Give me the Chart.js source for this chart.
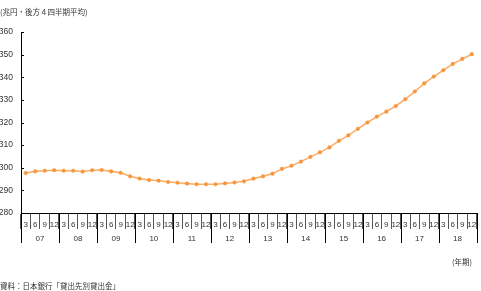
<html>
<head>
  <meta charset="utf-8">
  <title>貸出金</title>
  <script src="https://cdn.jsdelivr.net/npm/chart.js@4.4.1/dist/chart.umd.min.js"></script>
  <style>
    body { margin: 0; background: #fff; }
    #wrap { width: 481px; height: 291px; }
  </style>
</head>
<body>
  <div id="wrap"><canvas id="chart" width="481" height="291"></canvas></div>

  <script>
    // quarterly labels (month of quarter end), 2007 - 2018
    var years = ['07', '08', '09', '10', '11', '12', '13', '14', '15', '16', '17', '18'];
    var quarters = ['3', '6', '9', '12'];
    var yTicks = [280, 290, 300, 310, 320, 330, 340, 350, 360];

    // 兆円, 後方4四半期平均
    var loans = [
      297.7, 298.4, 298.7, 298.9,
      298.7, 298.7, 298.3, 298.9,
      299.0, 298.4, 297.8, 296.2,
      295.2, 294.6, 294.3, 293.7,
      293.4, 293.0, 292.7, 292.7,
      292.7, 293.1, 293.5, 294.0,
      295.2, 296.2, 297.4, 299.5,
      300.9, 302.7, 304.8, 306.8,
      309.0, 311.9, 314.3, 317.2,
      320.0, 322.6, 324.8, 327.3,
      330.3, 333.7, 337.3, 340.3,
      343.1, 345.9, 348.1, 350.2
    ];

    var labels = [];
    for (var i = 0; i < years.length; i++) {
      for (var j = 0; j < quarters.length; j++) {
        labels.push(quarters[j]);
      }
    }

    var jpFont = '"Noto Sans CJK JP", sans-serif';

    // year separators, year labels, inward y ticks and the notes
    var extras = {
      id: 'extras',
      afterDraw: function (chart) {
        var ctx = chart.ctx;
        var x = chart.scales.x;
        var y = chart.scales.y;
        var bottom = chart.chartArea.bottom;
        var half = (x.getPixelForValue(1) - x.getPixelForValue(0)) / 2;
        ctx.save();

        ctx.strokeStyle = '#000';
        ctx.lineWidth = 1;
        ctx.beginPath();
        for (var k = 0; k <= years.length; k++) {
          var px;
          if (k < years.length) px = x.getPixelForValue(k * 4) - half;
          else px = x.getPixelForValue(k * 4 - 1) + half;
          px = Math.round(px) + 0.5;
          ctx.moveTo(px, bottom);
          ctx.lineTo(px, bottom + 30);
        }
        // inward ticks on y axis
        yTicks.forEach(function (v) {
          var py = Math.round(y.getPixelForValue(v)) + 0.5;
          ctx.moveTo(chart.chartArea.left, py);
          ctx.lineTo(chart.chartArea.left + 3, py);
        });
        ctx.stroke();

        ctx.fillStyle = '#333';
        ctx.font = '8px "Liberation Sans", sans-serif';
        ctx.textAlign = 'center';
        ctx.textBaseline = 'middle';
        for (var k = 0; k < years.length; k++) {
          var cx = (x.getPixelForValue(k * 4) + x.getPixelForValue(k * 4 + 3)) / 2;
          ctx.fillText(years[k], cx, bottom + 26);
        }

        ctx.font = '7.5px ' + jpFont;
        ctx.textAlign = 'left';
        ctx.fillText('(兆円・後方４四半期平均)', 0, 12);
        ctx.fillText('資料：日本銀行「貸出先別貸出金」', 0, 286);
        ctx.textAlign = 'right';
        ctx.fillText('(年期)', 472, 262);
        ctx.restore();
      }
    };

    new Chart(document.getElementById('chart'), {
      type: 'line',
      data: {
        labels: labels,
        datasets: [{
          label: '貸出金',
          data: loans,
          borderColor: 'rgba(247, 150, 60, 0.75)',
          borderWidth: 1.6,
          pointBackgroundColor: '#f7963c',
          pointBorderColor: '#f7963c',
          pointRadius: 1.8,
          pointBorderWidth: 0.5,
          tension: 0
        }]
      },
      options: {
        responsive: false,
        animation: false,
        layout: { padding: { top: 32, right: 4, left: 0, bottom: 0 } },
        plugins: {
          legend: { display: false },
          title: { display: false },
          tooltip: { enabled: false }
        },
        scales: {
          x: {
            type: 'category',
            offset: true,
            afterFit: function (scale) { scale.height = 78; },
            border: { display: true, color: '#000', width: 1 },
            grid: {
              display: true,
              offset: true,
              drawOnChartArea: false,
              drawTicks: true,
              tickLength: 16,
              color: '#555'
            },
            ticks: {
              autoSkip: false,
              maxRotation: 0,
              padding: -9,
              color: '#333',
              font: { size: 8, family: '"Liberation Sans", sans-serif' }
            }
          },
          y: {
            min: 280,
            max: 360,
            afterFit: function (scale) { scale.width = 21; },
            border: { display: true, color: '#000', width: 1 },
            grid: { display: false, drawTicks: false },
            ticks: {
              stepSize: 10,
              padding: 8,
              color: '#333',
              font: { size: 8.5, family: '"Liberation Sans", sans-serif' }
            }
          }
        }
      },
      plugins: [extras]
    });
  </script>
</body>
</html>
